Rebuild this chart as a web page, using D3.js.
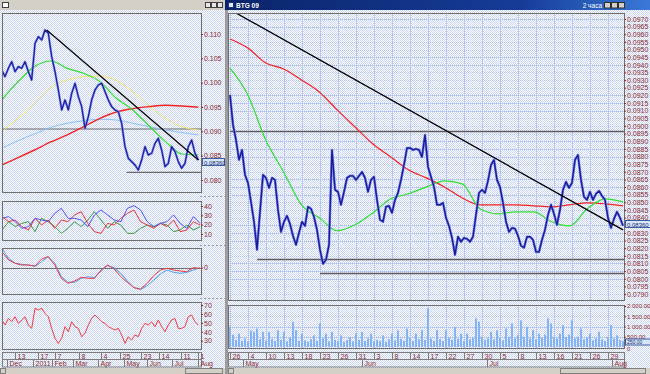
<!DOCTYPE html>
<html>
<head>
<meta charset="utf-8">
<script src="https://cdnjs.cloudflare.com/ajax/libs/d3/7.8.5/d3.min.js"></script>
<style>
body { margin: 0; background: #e7ebf8; }
svg { display: block; font-family: "Liberation Sans", Arial, sans-serif; }
.lbl text { font-size: 7px; fill: #8a2a2a; }
.lbl line { stroke: #8a2a2a; }
.lbl.small text { font-size: 6px; }
</style>
</head>
<body>
<script>
// ---- main (right) chart data, 2-hour bars ----
var mainClose = [
  0.09203,0.09007,0.08908,0.08778,0.08843,0.08680,0.08627,0.08503,0.08373,0.08190,
  0.08438,0.08680,0.08660,0.08595,0.08660,0.08647,0.08451,0.08307,0.08373,0.08412,
  0.08359,0.08281,0.08222,0.08301,0.08373,0.08346,0.08471,0.08458,0.08405,0.08320,
  0.08190,0.08098,0.08124,0.08222,0.08843,0.08582,0.08569,0.08484,0.08569,0.08660,
  0.08673,0.08673,0.08647,0.08673,0.08699,0.08660,0.08569,0.08647,0.08667,0.08516,
  0.08386,0.08373,0.08471,0.08477,0.08431,0.08516,0.08562,0.08647,0.08745,0.08856,
  0.08856,0.08843,0.08850,0.08843,0.08797,0.08941,0.08732,0.08667,0.08601,0.08484,
  0.08484,0.08497,0.08399,0.08346,0.08268,0.08157,0.08275,0.08242,0.08268,0.08261,
  0.08242,0.08275,0.08418,0.08562,0.08582,0.08562,0.08641,0.08745,0.08778,0.08647,
  0.08601,0.08497,0.08373,0.08307,0.08333,0.08327,0.08281,0.08216,0.08203,0.08275,
  0.08275,0.08255,0.08176,0.08176,0.08255,0.08320,0.08418,0.08484,0.08425,0.08353,
  0.08451,0.08582,0.08634,0.08595,0.08627,0.08778,0.08810,0.08647,0.08536,0.08516,
  0.08569,0.08516,0.08556,0.08575,0.08542,0.08516,0.08399,0.08333,0.08392,0.08438,
  0.08399,0.08346
];
var mainRedMA = [0.09569,0.09510,0.09412,0.09373,0.09301,0.09222,0.09105,0.08993,0.08882,0.08797,0.08712,0.08660,
  0.08601,0.08529,0.08484,0.08484,0.08484,0.08477,0.08471,0.08484,0.08497,0.08490,0.08477];
var mainGreenMA = [0.09379,0.09203,0.08908,0.08699,0.08484,0.08399,0.08314,0.08353,0.08431,0.08523,0.08556,0.08601,
  0.08641,0.08621,0.08458,0.08425,0.08438,0.08438,0.08373,0.08346,0.08458,0.08523,0.08503];
var mainVolume = [
  1000,600,350,650,300,420,280,800,740,900,380,740,320,740,400,300,820,350,740,280,
  450,1230,820,300,650,330,260,380,570,300,1150,420,650,280,740,350,300,570,260,330,
  490,280,650,350,740,300,420,650,280,350,300,570,260,380,650,330,820,400,300,900,
  450,300,650,380,820,350,1890,420,300,820,380,300,820,450,350,980,400,650,300,650,
  380,450,1400,1230,500,350,420,740,380,820,450,330,900,500,1150,420,600,1300,500,980,
  420,820,380,650,450,600,1400,1150,500,420,650,1070,480,600,1300,420,500,900,380,450,
  650,330,420,740,380,300,500,1070,420,570,350,300
];
var mainTrend = [[2, 0.09739], [131, 0.08320]];
var mainLevels = [[0, 0.08967], [9, 0.08131], [30, 0.08039]];   // [start bar, price]
var mainDayLabels = ["26","4","10","13","18","23","26","31","3","8","14","17","22","27","30","5","8","13","16","21","26","29"];
var mainMonthPos = [4.3, 44, 85.7, 127.3];
var mainMonthLabels = ["May","Jun","Jul","Aug"];
var volTicks = [0, 500, 1000, 1500, 2000];
var mainLast = 0.0836, volLast = 250;

// ---- left (daily) chart data ----
var leftClose = [
  0.10260,0.10123,0.10294,0.10431,0.10226,0.10329,0.10294,0.10431,0.10226,0.10055,
  0.10808,0.10945,0.10877,0.11082,0.11014,0.10534,0.10226,0.09849,0.09438,0.09644,
  0.09438,0.09781,0.09986,0.09712,0.09507,0.09062,0.09301,0.09644,0.09849,0.09952,
  0.09986,0.09815,0.09644,0.09507,0.09438,0.09404,0.09164,0.08685,0.08445,0.08377,
  0.08308,0.08205,0.08411,0.08685,0.08514,0.08548,0.08753,0.08856,0.08616,0.08274,
  0.08342,0.08685,0.08582,0.08377,0.08240,0.08342,0.08685,0.08822,0.08548,0.08411
];
var leftGreen = [0.09644,0.10020,0.10329,0.10445,0.10294,0.10192,0.10020,0.09678,0.09438,0.09110,0.08788,0.08534,0.08514];
var leftYellow = [0.08993,0.09267,0.09575,0.09904,0.10055,0.10123,0.10137,0.10041,0.09815,0.09520,0.09267,0.09096,0.09027];
var leftSky = [0.08651,0.08808,0.08945,0.09082,0.09164,0.09219,0.09247,0.09233,0.09164,0.09096,0.09027,0.08973,0.08925];
var leftRed = [0.08308,0.08459,0.08616,0.08781,0.08925,0.09096,0.09267,0.09397,0.09466,0.09507,0.09534,0.09520,0.09493];
var leftTrend = [[13.5, 0.11082], [59, 0.08411]];
var leftLevels = [[0, 0.09048], [37.5, 0.08158]];
var leftPriceTicks = [0.080, 0.085, 0.090, 0.095, 0.100, 0.105, 0.110];

var adxBlue = [26.8,28.6,23.2,16.1,17.9,26.8,25.0,23.2,32.1,37.5,26.8,26.8,25.0,17.9,30.4,35.7,30.4,25.0,23.2,37.5,40.4,35.7,23.2,17.9,21.4,23.2,30.4,21.4,16.1,28.6,21.4];
var adxRed = [28.6,23.2,25.0,17.9,14.3,26.8,19.6,25.0,16.1,25.0,23.2,30.4,33.9,21.4,12.5,10.7,21.4,19.6,26.8,32.1,35.7,23.2,19.6,16.1,21.4,17.9,25.0,12.5,14.3,23.2,19.6];
var adxGreen = [14.3,23.2,17.9,21.4,23.2,12.5,26.8,23.2,17.9,10.7,16.1,23.2,17.9,25.0,33.9,25.0,16.1,23.2,19.6,10.7,10.7,16.1,19.6,17.9,21.4,19.6,12.5,14.3,19.6,14.3,17.9];
var macdRed = [4.8,2.3,1.3,0.8,0.8,0.5,2.6,3.3,0.8,-3.2,-4.7,-4.0,-2.9,-3.2,-3.2,-0.7,0.8,-0.4,-2.7,-4.4,-6.0,-6.4,-4.7,-2.4,-0.7,-0.2,-0.7,-1.0,-1.2,0.0,-0.2];
var macdBlue = [5.8,2.8,1.3,1.0,0.8,0.4,1.8,3.3,1.3,-2.7,-4.4,-4.4,-3.2,-2.7,-3.0,-1.0,0.6,0.0,-1.7,-4.0,-6.0,-6.6,-5.4,-3.7,-1.9,-0.7,-1.4,-1.7,-1.4,-0.7,0.0];
var rsi = [
  53.2,47.6,55.0,51.3,56.9,49.4,53.2,56.9,47.6,43.8,66.3,64.4,66.3,60.7,56.9,43.8,32.6,27.0,32.6,45.7,
  40.1,51.3,45.7,43.8,34.5,38.2,47.6,55.0,58.8,55.0,51.3,49.4,45.7,43.8,42.0,43.8,36.4,27.0,34.5,30.7,
  36.4,34.5,43.8,49.4,47.6,51.3,45.7,53.2,45.7,40.1,47.6,53.2,55.0,43.8,43.8,45.7,56.9,58.8,51.3,47.6
];
var leftDayPos = [4.0, 10.9, 16.0, 23.2, 29.8, 35.5, 41.8, 47.2, 53.8, 58.9];
var leftDayLabels = ["13","17","7","8","4","25","23","14","11","1"];
var leftMonthPos = [1.6, 9.4, 15.1, 21.4, 28.9, 36.7, 43.6, 51.1, 58.9];
var leftMonthLabels = ["Dec","2011","Feb","Mar","Apr","May","Jun","Jul","Aug"];

var width = 650, height = 374;
var svg = d3.select("body").append("svg").attr("width", width).attr("height", height);
var defs = svg.append("defs");

// dithered light-blue background like the old terminal
var pat = defs.append("pattern").attr("id", "dith").attr("width", 2).attr("height", 2)
  .attr("patternUnits", "userSpaceOnUse");
pat.append("rect").attr("width", 2).attr("height", 2).attr("fill", "#ffffff");
pat.append("rect").attr("width", 1).attr("height", 1).attr("fill", "#c9d3f2");
pat.append("rect").attr("x", 1).attr("y", 1).attr("width", 1).attr("height", 1).attr("fill", "#c9d3f2");
var tb = defs.append("linearGradient").attr("id", "titlebar");
tb.append("stop").attr("offset", "0%").attr("stop-color", "#0a246a");
tb.append("stop").attr("offset", "70%").attr("stop-color", "#163c98");
tb.append("stop").attr("offset", "100%").attr("stop-color", "#3a78d8");

svg.append("rect").attr("width", width).attr("height", height).attr("fill", "url(#dith)");

var clipN = 0;
function panel(x0, y0, x1, y1) {
  svg.append("rect").attr("x", x0 + 0.5).attr("y", y0 + 0.5)
    .attr("width", x1 - x0).attr("height", y1 - y0)
    .attr("fill", "none").attr("stroke", "#6e6e6e");
  var id = "clip" + (clipN++);
  defs.append("clipPath").attr("id", id).append("rect")
    .attr("x", x0 + 1).attr("y", y0 + 1).attr("width", x1 - x0 - 1).attr("height", y1 - y0 - 1);
  return svg.append("g").attr("clip-path", "url(#" + id + ")");
}

function drawLine(g, data, x, y, color, w) {
  g.append("path").datum(data)
    .attr("fill", "none").attr("stroke", color).attr("stroke-width", w)
    .attr("stroke-linejoin", "round")
    .attr("d", d3.line().x(function(d, i) { return x(i); }).y(function(d) { return y(d); }));
}

// MA arrays are sampled more sparsely than the price bars
function drawMA(g, data, nBars, x, y, color, w) {
  var step = (nBars - 1) / (data.length - 1);
  g.append("path").datum(data)
    .attr("fill", "none").attr("stroke", color).attr("stroke-width", w)
    .attr("d", d3.line().curve(d3.curveMonotoneX)
      .x(function(d, i) { return x(i * step); }).y(function(d) { return y(d); }));
}

function priceLine(g, data, x, y, w) {
  drawLine(g, data, x, y, "#7888e6", w + 1.2);
  drawLine(g, data, x, y, "#1b1b98", w);
}

function rightAxis(xPos, scale, ticks, fmt, cls) {
  var ax = svg.append("g").attr("class", "lbl " + (cls || "")).attr("transform", "translate(" + xPos + ",0)")
    .call(d3.axisRight(scale).tickValues(ticks).tickFormat(fmt).tickSize(2).tickPadding(1));
  ax.select(".domain").remove();
  return ax;
}

function lastBox(x, y, w, h, txt) {
  var yy = Math.round(y);
  svg.append("rect").attr("x", x + 0.5).attr("y", yy - h / 2).attr("width", w).attr("height", h)
    .attr("fill", "#d6e6fa").attr("stroke", "#3c5ca0");
  svg.append("text").attr("x", x + 2).attr("y", yy + h / 2 - 1)
    .attr("font-size", h - 1).attr("fill", "#203070").text(txt);
}

function dateRows(x0, x1, dayX, dayLabels, monX, monLabels) {
  var g = svg.append("g");
  g.append("rect").attr("x", x0 + 0.5).attr("y", 352.5).attr("width", x1 - x0).attr("height", 7)
    .attr("fill", "url(#dith)").attr("stroke", "#7c7c7c");
  g.append("rect").attr("x", x0 + 0.5).attr("y", 359.5).attr("width", x1 - x0).attr("height", 7.5)
    .attr("fill", "url(#dith)").attr("stroke", "#7c7c7c");
  dayX.forEach(function(px, i) {
    var xx = Math.round(px) + 0.5;
    g.append("line").attr("x1", xx).attr("x2", xx).attr("y1", 352).attr("y2", 359.5).attr("stroke", "#7c7c7c");
    if (dayLabels[i]) g.append("text").attr("x", xx + 2).attr("y", 358.5).attr("font-size", 7)
      .attr("fill", "#8a2a2a").text(dayLabels[i]);
  });
  monX.forEach(function(px, i) {
    var xx = Math.round(px) + 0.5;
    g.append("line").attr("x1", xx).attr("x2", xx).attr("y1", 359.5).attr("y2", 367).attr("stroke", "#7c7c7c");
    g.append("text").attr("x", xx + 2).attr("y", 366).attr("font-size", 7)
      .attr("fill", "#8a2a2a").text(monLabels[i]);
  });
}

function scrollBar(x0, x1, thumb0, thumb1) {
  svg.append("rect").attr("x", x0).attr("y", 368).attr("width", x1 - x0).attr("height", 6).attr("fill", "#d4d0c8");
  svg.append("rect").attr("x", thumb0 + 0.5).attr("y", 368.5).attr("width", thumb1 - thumb0).attr("height", 5)
    .attr("fill", "#d4d0c8").attr("stroke", "#808080");
  svg.append("rect").attr("x", x0 + 0.5).attr("y", 368.5).attr("width", 5).attr("height", 5)
    .attr("fill", "#d4d0c8").attr("stroke", "#808080");
}

// ================= LEFT WINDOW =================
svg.append("rect").attr("x", 0).attr("y", 0).attr("width", 225).attr("height", 10).attr("fill", "#d4d0c8");
svg.append("rect").attr("x", 2.5).attr("y", 2.5).attr("width", 6).attr("height", 5).attr("fill", "#ffffff").attr("stroke", "#404040");
[205, 211, 217].forEach(function(bx) {
  svg.append("rect").attr("x", bx + 0.5).attr("y", 2.5).attr("width", 5).attr("height", 5)
    .attr("fill", "#e8e8e8").attr("stroke", "#404040");
});

var xLeft = d3.scaleLinear().domain([0, leftClose.length - 1]).range([1.7, 198.3]);
var yLeft = d3.scaleLinear().domain([0.07753, 0.11431]).range([192, 13]);
var gL = panel(2, 13, 201, 192);
leftLevels.forEach(function(l) {
  gL.append("line").attr("x1", xLeft(l[0])).attr("x2", 201).attr("y1", yLeft(l[1])).attr("y2", yLeft(l[1]))
    .attr("stroke", "#6a6a6a").attr("stroke-width", 1.2);
});
drawMA(gL, leftSky, leftClose.length, xLeft, yLeft, "#86c2f2", 1);
drawMA(gL, leftYellow, leftClose.length, xLeft, yLeft, "#f2e46a", 1);
drawMA(gL, leftRed, leftClose.length, xLeft, yLeft, "#f02424", 1.4);
drawMA(gL, leftGreen, leftClose.length, xLeft, yLeft, "#2ee02e", 1.2);
priceLine(gL, leftClose, xLeft, yLeft, 1.1);
gL.append("line").attr("x1", xLeft(leftTrend[0][0])).attr("y1", yLeft(leftTrend[0][1]))
  .attr("x2", xLeft(leftTrend[1][0])).attr("y2", yLeft(leftTrend[1][1]))
  .attr("stroke", "#000000").attr("stroke-width", 1.2);
rightAxis(201, yLeft, leftPriceTicks, d3.format(".3f"));
lastBox(202, yLeft(mainLast), 22, 7, "0.08360");

// dashed separators in the label column
[196, 245, 298].forEach(function(yy) {
  svg.append("line").attr("x1", 200).attr("x2", 225).attr("y1", yy + 0.5).attr("y2", yy + 0.5)
    .attr("stroke", "#9a9a9a").attr("stroke-dasharray", "2,2");
});

// ADX / DMI
var xInd = d3.scaleLinear().domain([0, adxBlue.length - 1]).range([2, 200]);
var yAdx = d3.scaleLinear().domain([3.57, 45.36]).range([240, 201]);
var gA = panel(2, 201, 201, 240);
drawLine(gA, adxGreen, xInd, yAdx, "#3a9a3a", 1);
drawLine(gA, adxRed, xInd, yAdx, "#ee3434", 1);
drawLine(gA, adxBlue, xInd, yAdx, "#5454ee", 1);
rightAxis(201, yAdx, [10, 20, 30, 40], d3.format("d"));

// MACD
var yMacd = d3.scaleLinear().domain([-7.9, 5.9]).range([294, 248]);
var gM = panel(2, 248, 201, 294);
gM.append("line").attr("x1", 2).attr("x2", 201).attr("y1", Math.round(yMacd(0)) + 0.5).attr("y2", Math.round(yMacd(0)) + 0.5)
  .attr("stroke", "#707070");
drawLine(gM, macdBlue, xInd, yMacd, "#4aa0f0", 1);
drawLine(gM, macdRed, xInd, yMacd, "#ee3c3c", 1);
rightAxis(201, yMacd, [0], d3.format("d"));

// RSI
var yRsi = d3.scaleLinear().domain([20.7, 73.4]).range([349, 302]);
var gR = panel(2, 302, 201, 349);
drawLine(gR, rsi, xLeft, yRsi, "#ee3c3c", 1);
rightAxis(201, yRsi, [30, 40, 50, 60, 70], d3.format("d"));

dateRows(2, 201,
  leftDayPos.map(function(p) { return xLeft(p); }), leftDayLabels,
  leftMonthPos.map(function(p) { return xLeft(p); }), leftMonthLabels);
scrollBar(0, 225, 185, 222);

// ================= RIGHT WINDOW =================
svg.append("rect").attr("x", 225).attr("y", 0).attr("width", 425).attr("height", 10).attr("fill", "url(#titlebar)");
svg.append("rect").attr("x", 228.5).attr("y", 2.5).attr("width", 5).attr("height", 5).attr("fill", "#e0e8ff").attr("stroke", "#203080");
svg.append("text").attr("x", 236).attr("y", 8).attr("font-size", 6.5).attr("font-weight", "bold")
  .attr("fill", "#ffffff").text("BTG 09");
svg.append("text").attr("x", 602).attr("y", 8).attr("font-size", 6.5).attr("text-anchor", "end")
  .attr("fill", "#ffffff").text("2 часа");
[604, 611, 618].forEach(function(bx) {
  svg.append("rect").attr("x", bx + 0.5).attr("y", 2.5).attr("width", 6).attr("height", 5.5)
    .attr("fill", "#d4d0c8").attr("stroke", "#303030");
});
svg.append("rect").attr("x", 225).attr("y", 10).attr("width", 3).attr("height", 364).attr("fill", "#9c9c9c");

var xMain = d3.scaleLinear().domain([0, mainClose.length - 1]).range([230, 623]);
var yMain = d3.scaleLinear().domain([0.07861, 0.09739]).range([300, 13]);
var priceTicks = d3.range(0, 37).map(function(k) { return 0.0790 + k * 0.0005; });
// the tick hidden under the last-price box is not labelled
var labelTicks = priceTicks.filter(function(v) { return Math.abs(v - 0.0835) > 1e-6; });
var dayBars = mainDayLabels.map(function(d, i) { return i * 6; });

var gP = panel(228, 13, 624, 300);
priceTicks.forEach(function(v) {
  var yy = Math.round(yMain(v)) + 0.5;
  gP.append("line").attr("x1", 228).attr("x2", 624).attr("y1", yy).attr("y2", yy)
    .attr("stroke", "#a9bdec").attr("stroke-dasharray", "1,1");
});
dayBars.forEach(function(b) {
  var xx = Math.round(xMain(b)) + 0.5;
  gP.append("line").attr("x1", xx).attr("x2", xx).attr("y1", 13).attr("y2", 300)
    .attr("stroke", "#a9bdec").attr("stroke-dasharray", "1,1");
});
mainLevels.forEach(function(l) {
  gP.append("line").attr("x1", xMain(l[0])).attr("x2", 624).attr("y1", Math.round(yMain(l[1])) + 0.5).attr("y2", Math.round(yMain(l[1])) + 0.5)
    .attr("stroke", "#5c5c5c").attr("stroke-width", 1.6);
});
drawMA(gP, mainRedMA, mainClose.length, xMain, yMain, "#f42020", 1.2);
drawMA(gP, mainGreenMA, mainClose.length, xMain, yMain, "#2ee02e", 1.2);
priceLine(gP, mainClose, xMain, yMain, 1.4);
gP.append("line").attr("x1", xMain(mainTrend[0][0])).attr("y1", yMain(mainTrend[0][1]))
  .attr("x2", xMain(mainTrend[1][0])).attr("y2", yMain(mainTrend[1][1]))
  .attr("stroke", "#000000").attr("stroke-width", 1.3);
rightAxis(624, yMain, labelTicks, d3.format(".4f"));
lastBox(625, yMain(mainLast), 25, 7, "0.08360");

// volume
var volFmt = d3.formatLocale({ decimal: ".", thousands: " ", grouping: [3], currency: ["", ""] }).format(",.2f");
var yVol = d3.scaleLinear().domain([0, 2000]).range([347, 306]);
var gV = panel(228, 305, 624, 348);
dayBars.forEach(function(b) {
  var xx = Math.round(xMain(b)) + 0.5;
  gV.append("line").attr("x1", xx).attr("x2", xx).attr("y1", 305).attr("y2", 348)
    .attr("stroke", "#a9bdec").attr("stroke-dasharray", "1,1");
});
[500, 1000, 1500].forEach(function(v) {
  var yy = Math.round(yVol(v)) + 0.5;
  gV.append("line").attr("x1", 228).attr("x2", 624).attr("y1", yy).attr("y2", yy)
    .attr("stroke", "#a9bdec").attr("stroke-dasharray", "1,1");
});
gV.selectAll(".vol").data(mainVolume).enter().append("rect")
  .attr("class", "vol")
  .attr("x", function(d, i) { return xMain(i) - 1; })
  .attr("width", 2)
  .attr("y", function(d) { return yVol(d); })
  .attr("height", function(d) { return yVol(0) - yVol(d); })
  .attr("fill", "#84b4f2");
rightAxis(624, yVol, volTicks.filter(function(v) { return v > 0; }), volFmt, "small");
svg.append("text").attr("x", 627).attr("y", 351).attr("font-size", 5.5).attr("fill", "#8a2a2a").text("0");
lastBox(625, yVol(volLast), 25, 6, "250.00");

dateRows(228, 624,
  dayBars.map(function(b) { return xMain(b); }), mainDayLabels,
  mainMonthPos.map(function(p) { return xMain(p); }), mainMonthLabels);
scrollBar(228, 650, 560, 645);
</script>
</body>
</html>
